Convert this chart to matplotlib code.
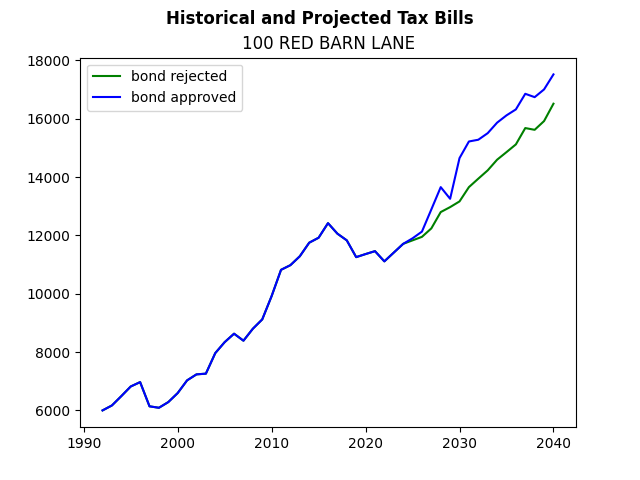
import matplotlib
matplotlib.use("Agg")
import matplotlib.pyplot as plt

years = list(range(1992, 2041))

# shared history up to 2024, then the two projections
history = [6000, 6170, 6490, 6820, 6970, 6140, 6090, 6285, 6595, 7030,
           7235, 7260, 7965, 8340, 8630, 8390, 8800, 9120, 9920, 10820,
           10980, 11285, 11750, 11920, 12420, 12060, 11830, 11255, 11360, 11460,
           11110, 11410, 11710]
rejected_future = [11830, 11950, 12240, 12800, 12970, 13165, 13655, 13945, 14230,
                   14595, 14855, 15120, 15680, 15620, 15920, 16515]
approved_future = [11900, 12130, 12890, 13655, 13255, 14650, 15220, 15280, 15505,
                   15865, 16115, 16320, 16855, 16740, 17005, 17520]

bond_rejected = history + rejected_future
bond_approved = history + approved_future

fig, ax = plt.subplots(figsize=(6.4, 4.8), dpi=100)
ax.plot(years, bond_rejected, color="green", label="bond rejected")
ax.plot(years, bond_approved, color="blue", label="bond approved")
fig.suptitle("Historical and Projected Tax Bills", fontweight="bold")
ax.set_title("100 RED BARN LANE")
ax.legend(loc="upper left")
fig.savefig("out.png")
